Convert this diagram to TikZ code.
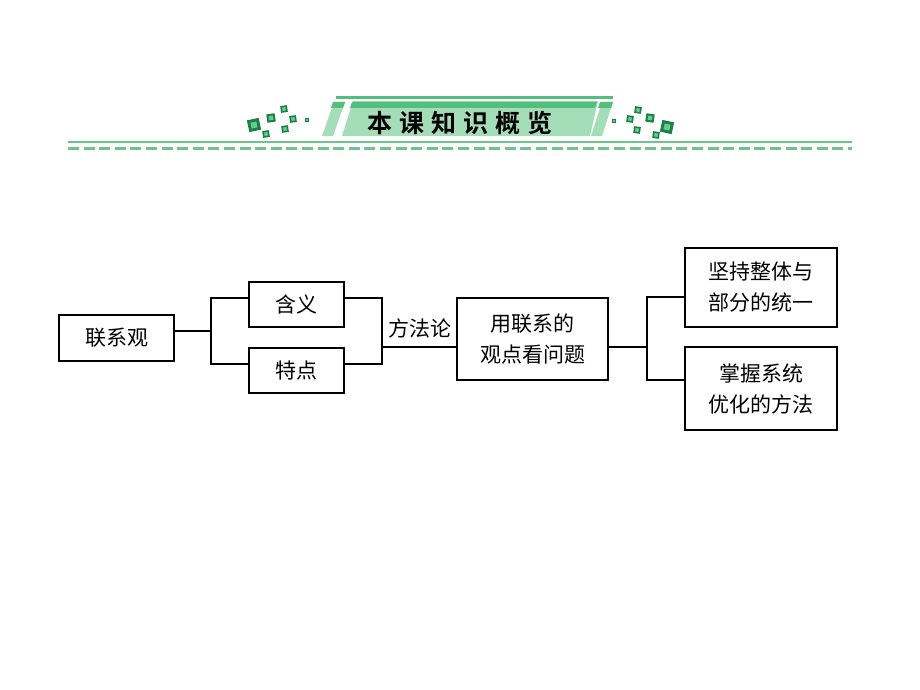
\documentclass[tikz,border=0pt]{standalone}
\usepackage{fontspec}
\setmainfont{Noto Sans CJK SC}
\newfontfamily\cjkb{Noto Sans CJK SC Bold}
\begin{document}
\begin{tikzpicture}[x=1pt,y=-1pt,
  box/.style={draw=black,line width=1.7pt,fill=white,inner sep=0pt,align=center,
    font=\fontsize{21}{31}\selectfont},
  conn/.style={draw=black,line width=1.7pt},
  lbl/.style={inner sep=0pt,font=\fontsize{21}{24}\selectfont}]
\useasboundingbox (0,0) rectangle (920,690);
\fill[white] (0,0) rectangle (920,690);
% ---------- header ----------
\definecolor{bannerlight}{RGB}{164,222,184}
\definecolor{bannerdark}{RGB}{84,190,124}
\definecolor{lineg}{RGB}{110,196,140}
\definecolor{sqdark}{RGB}{26,128,70}
\definecolor{sqlight}{RGB}{100,206,140}
\fill[bannerdark] (336,96) rectangle (613,99);
\fill[bannerlight] (342,136) -- (353,101) -- (598,101) -- (590,136) -- cycle;
\fill[bannerdark] (352,102) -- (597,102) -- (595,108) -- (350,108) -- cycle;
\fill[bannerlight] (322,136) -- (333,136) -- (345,102) -- (334,102) -- cycle;
\fill[bannerdark] (333,102) -- (345,102) -- (343,108) -- (331,108) -- cycle;
\fill[bannerlight] (591,136) -- (602,136) -- (613,102) -- (602,102) -- cycle;
\fill[bannerdark] (600,102) -- (613,102) -- (611,108) -- (598,108) -- cycle;
\node[inner sep=0pt,font=\cjkb\fontsize{25}{25}\selectfont] (title) at (460,123)
  {本\hspace{7pt}课\hspace{7pt}知\hspace{7pt}识\hspace{7pt}概\hspace{7pt}览};
\draw[lineg,line width=2.2pt] (68,142) -- (852,142);
\draw[lineg,line width=2.6pt,dash pattern=on 11pt off 4.6pt] (68,148.5) -- (852,148.5);
% decorative squares
\foreach \x/\y/\s/\r in {254/125/6/12,271/118/4.2/8,284/109/3.4/8,293/119/3.4/8,285/129/3.4/8,266/134/3.4/8,307/120/2/0,
                        667/127/6/-12,650/118/4.2/-8,638/110/3.4/-8,630/119/3.4/-8,637/130/3.4/-8,656/135/3.4/-8,614/121/2/0}{
  \fill[sqdark,rotate around={\r:(\x,\y)}] (\x-\s,\y-\s) rectangle (\x+\s,\y+\s);
  \fill[sqlight,rotate around={\r:(\x,\y)}] (\x-0.5*\s,\y-0.5*\s) rectangle (\x+0.5*\s,\y+0.5*\s);
}
% ---------- diagram ----------
\node[box,minimum width=115pt,minimum height=46pt] (lxg) at (116.5,338) {联系观};
\node[box,minimum width=95pt,minimum height=45pt] (hy) at (296.5,304.5) {含义};
\node[box,minimum width=95pt,minimum height=45pt] (td) at (296.5,370.5) {特点};
\node[box,minimum width=151pt,minimum height=82pt] (yl) at (532.5,339) {用联系的\\观点看问题};
\node[box,minimum width=152pt,minimum height=79pt] (jc) at (761,287.5) {坚持整体与\\部分的统一};
\node[box,minimum width=152pt,minimum height=83pt] (zw) at (761,388.5) {掌握系统\\优化的方法};
\node[lbl] (ffl) at (420,328) {方法论};
% left bracket
\coordinate (lm) at (211,331);
\coordinate (lt) at (211,298);
\coordinate (lb) at (211,364);
\draw[conn] (lxg.east |- lm) -- (lm);
\draw[conn] (hy.west |- lt) -- (lt) -- (lb) -- (td.west |- lb);
% middle bracket
\coordinate (mt) at (382,298);
\coordinate (mb) at (382,364);
\coordinate (mm) at (382,347);
\draw[conn] (hy.east |- mt) -- (mt) -- (mb) -- (td.east |- mb);
\draw[conn] (mm) -- (yl.west |- mm);
% right bracket
\coordinate (rm) at (647,347);
\coordinate (rt) at (647,297);
\coordinate (rb) at (647,380);
\draw[conn] (yl.east |- rm) -- (rm);
\draw[conn] (jc.west |- rt) -- (rt) -- (rb) -- (zw.west |- rb);
\end{tikzpicture}
\end{document}
